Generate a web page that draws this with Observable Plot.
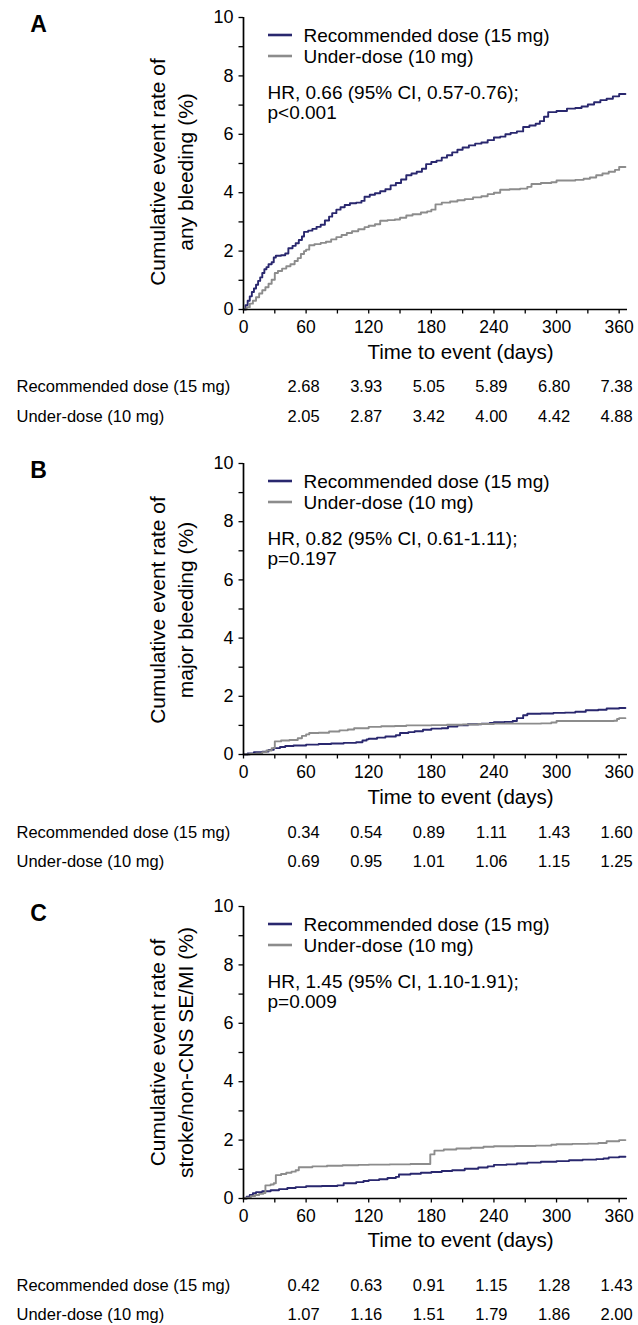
<!DOCTYPE html>
<html>
<head>
<meta charset="utf-8">
<script src="https://cdn.jsdelivr.net/npm/d3@7"></script>
<script src="https://cdn.jsdelivr.net/npm/@observablehq/plot@0.6"></script>
<style>
  html, body { margin: 0; padding: 0; background: #fff; }
  #chart svg { display: block; }
</style>
</head>
<body>
<div id="chart"></div>
<script>
// ---------- data ----------
const seriesNames = ["Recommended dose (15 mg)", "Under-dose (10 mg)"];
const seriesColors = ["#29276e", "#8c8c8c"];
const xTicks = [0, 30, 60, 90, 120, 150, 180, 210, 240, 270, 300, 330, 360];
const yTicks = [0, 1, 2, 3, 4, 5, 6, 7, 8, 9, 10];
const tableDays = [60, 120, 180, 240, 300, 360];

const panelLetters = ["A", "B", "C"];
const yLabels = [
  "Cumulative event rate of\nany bleeding (%)",
  "Cumulative event rate of\nmajor bleeding (%)",
  "Cumulative event rate of\nstroke/non-CNS SE/MI (%)"
];
const hrTexts = [
  "HR, 0.66 (95% CI, 0.57-0.76);\np<0.001",
  "HR, 0.82 (95% CI, 0.61-1.11);\np=0.197",
  "HR, 1.45 (95% CI, 1.10-1.91);\np=0.009"
];

const tableA_rec = [2.68, 3.93, 5.05, 5.89, 6.80, 7.38];
const tableA_under = [2.05, 2.87, 3.42, 4.00, 4.42, 4.88];
const tableB_rec = [0.34, 0.54, 0.89, 1.11, 1.43, 1.60];
const tableB_under = [0.69, 0.95, 1.01, 1.06, 1.15, 1.25];
const tableC_rec = [0.42, 0.63, 0.91, 1.15, 1.28, 1.43];
const tableC_under = [1.07, 1.16, 1.51, 1.79, 1.86, 2.00];

// Kaplan-Meier style cumulative curves [day, %]
const curveA_rec = [[0,0],[2,0.15],[4,0.3],[6,0.45],[8,0.6],[10,0.72],[12,0.85],[14,0.98],[16,1.1],[18,1.25],[20,1.38],[22,1.45],[24,1.55],[27,1.62],[29,1.78],[31,1.84],[36,1.86],[40,1.92],[43,2.1],[47,2.18],[50,2.27],[53,2.38],[56,2.5],[58,2.66],[62,2.7],[66,2.76],[70,2.83],[74,2.9],[78,3.05],[82,3.18],[85,3.3],[89,3.42],[93,3.5],[97,3.58],[102,3.64],[108,3.66],[113,3.72],[116,3.86],[121,3.93],[126,3.98],[131,4.05],[136,4.12],[141,4.25],[146,4.33],[151,4.45],[156,4.6],[161,4.66],[166,4.72],[171,4.82],[175,4.98],[180,5.05],[185,5.1],[190,5.2],[195,5.28],[200,5.38],[205,5.47],[210,5.55],[216,5.62],[222,5.68],[228,5.72],[234,5.8],[240,5.89],[246,5.92],[251,6.0],[256,6.05],[262,6.1],[268,6.25],[274,6.3],[280,6.36],[284,6.45],[288,6.6],[292,6.76],[300,6.8],[306,6.8],[310,6.88],[318,6.9],[324,6.95],[330,7.02],[336,7.1],[342,7.17],[348,7.22],[354,7.3],[360,7.38],[366,7.38]];
const curveA_under = [[0,0],[3,0.08],[6,0.2],[9,0.3],[12,0.42],[15,0.55],[18,0.66],[21,0.76],[24,0.88],[27,1.02],[30,1.25],[33,1.32],[37,1.4],[41,1.48],[45,1.55],[49,1.66],[52,1.76],[55,1.9],[58,2.0],[60,2.05],[63,2.2],[68,2.24],[74,2.28],[79,2.32],[84,2.4],[89,2.48],[94,2.55],[99,2.62],[104,2.68],[110,2.75],[116,2.82],[120,2.87],[126,2.92],[131,3.04],[138,3.06],[145,3.08],[150,3.14],[156,3.22],[162,3.26],[170,3.32],[176,3.36],[180,3.42],[184,3.6],[190,3.66],[198,3.7],[205,3.74],[212,3.78],[220,3.84],[228,3.88],[234,3.95],[240,4.0],[246,4.1],[255,4.12],[265,4.14],[272,4.2],[276,4.3],[285,4.33],[295,4.36],[300,4.42],[310,4.42],[318,4.44],[326,4.48],[332,4.52],[338,4.6],[344,4.66],[350,4.72],[356,4.78],[360,4.88],[366,4.88]];
const curveB_rec = [[0,0],[4,0.04],[10,0.08],[18,0.1],[24,0.16],[29,0.22],[35,0.26],[40,0.29],[48,0.31],[60,0.34],[72,0.36],[84,0.38],[96,0.4],[108,0.42],[114,0.48],[118,0.52],[120,0.54],[128,0.58],[136,0.62],[146,0.66],[150,0.74],[158,0.77],[164,0.8],[172,0.85],[180,0.89],[190,0.9],[196,0.96],[205,1.0],[215,1.04],[228,1.06],[236,1.08],[240,1.11],[250,1.12],[258,1.15],[262,1.25],[268,1.35],[272,1.4],[285,1.41],[297,1.43],[308,1.44],[318,1.47],[328,1.52],[340,1.54],[348,1.58],[360,1.6],[366,1.6]];
const curveB_under = [[0,0],[6,0.02],[12,0.04],[18,0.08],[22,0.14],[27,0.22],[30,0.45],[36,0.48],[44,0.5],[52,0.56],[56,0.64],[60,0.69],[63,0.74],[72,0.75],[82,0.79],[92,0.83],[100,0.86],[106,0.9],[120,0.95],[132,0.97],[145,0.98],[156,1.0],[170,1.0],[180,1.01],[195,1.02],[210,1.03],[225,1.05],[240,1.06],[255,1.06],[270,1.06],[285,1.07],[295,1.1],[300,1.15],[320,1.15],[340,1.15],[355,1.16],[358,1.22],[360,1.25],[366,1.25]];
const curveC_rec = [[0,0],[3,0.06],[6,0.12],[9,0.18],[12,0.22],[18,0.25],[26,0.28],[34,0.32],[42,0.36],[50,0.39],[60,0.42],[75,0.43],[90,0.45],[96,0.52],[108,0.56],[115,0.6],[120,0.63],[130,0.66],[138,0.7],[146,0.74],[149,0.82],[160,0.85],[170,0.88],[180,0.91],[190,0.94],[200,0.97],[212,1.02],[225,1.06],[234,1.1],[240,1.15],[252,1.17],[262,1.2],[272,1.23],[285,1.26],[300,1.28],[312,1.31],[325,1.33],[338,1.35],[345,1.37],[350,1.41],[360,1.43],[366,1.43]];
const curveC_under = [[0,0],[3,0.03],[7,0.08],[11,0.12],[15,0.16],[19,0.19],[21,0.45],[26,0.48],[29,0.52],[31,0.8],[36,0.84],[41,0.88],[46,0.92],[50,0.97],[53,1.07],[60,1.07],[66,1.1],[80,1.12],[95,1.14],[110,1.15],[120,1.16],[140,1.17],[160,1.18],[177,1.18],[179,1.51],[183,1.64],[192,1.68],[204,1.71],[218,1.74],[230,1.77],[240,1.79],[260,1.8],[280,1.81],[295,1.84],[300,1.86],[315,1.87],[330,1.88],[340,1.9],[348,1.96],[360,2.0],[366,2.0]];

// ---------- layout (pixels) ----------
const FONT = "'Liberation Sans', Arial, Helvetica, sans-serif";
const panels = [
  {letter: 0, curves: [curveA_rec, curveA_under], table: [tableA_rec, tableA_under],
   height: 444, marginTop: 17, frameH: 292, ylabDy: 8.5, titleDy: 42.5, rowDy: [77.5, 107.5]},
  {letter: 1, curves: [curveB_rec, curveB_under], table: [tableB_rec, tableB_under],
   height: 444, marginTop: 19, frameH: 291, ylabDy: 1, titleDy: 43, rowDy: [78.5, 107.5]},
  {letter: 2, curves: [curveC_rec, curveC_under], table: [tableC_rec, tableC_under],
   height: 437, marginTop: 18, frameH: 292, ylabDy: 0, titleDy: 42, rowDy: [87, 116]}
];
const ML = 243, MR = 11;

function legendSwatches(index, scales, values, dims) {
  const g = d3.create("svg:g");
  const x0 = dims.marginLeft + 25, x1 = dims.marginLeft + 49;
  [18, 39].forEach((dy, i) => {
    g.append("line")
      .attr("x1", x0).attr("x2", x1)
      .attr("y1", dims.marginTop + dy).attr("y2", dims.marginTop + dy)
      .attr("stroke", seriesColors[i]).attr("stroke-width", 2.6);
  });
  return g.node();
}

const container = document.getElementById("chart");

panels.forEach((p, k) => {
  const marks = [];
  // curves
  p.curves.forEach((c, i) => {
    marks.push(Plot.line(c, {x: d => d[0], y: d => d[1], curve: "step-after",
      stroke: seriesColors[i], strokeWidth: 1.9}));
  });
  // axes
  marks.push(Plot.axisY({ticks: yTicks, tickFormat: d => (d % 2 === 0 ? String(d) : ""),
    tickSize: 4.5, tickPadding: 5.5, fontSize: 18, label: null, stroke: "#000", strokeWidth: 1.3}));
  marks.push(Plot.axisX({ticks: xTicks, tickFormat: d => (d % 60 === 0 ? String(d) : ""),
    tickSize: 4.5, tickPadding: 7, fontSize: 17.5, label: null, stroke: "#000", strokeWidth: 1.3}));
  marks.push(Plot.ruleY([0], {stroke: "#000", strokeWidth: 1.7}));
  marks.push(Plot.ruleX([0], {stroke: "#000", strokeWidth: 1.7}));
  // panel letter
  marks.push(Plot.text([panelLetters[p.letter]], {frameAnchor: "top-left", dx: 38 - ML, dy: 7,
    textAnchor: "middle", lineAnchor: "middle", fontSize: 23, fontWeight: "bold"}));
  // y label
  marks.push(Plot.text([yLabels[k]], {frameAnchor: "left", dx: 169.5 - ML, dy: p.ylabDy, rotate: -90,
    textAnchor: "middle", lineAnchor: "middle", lineHeight: 1.333, fontSize: 21}));
  // x axis title
  marks.push(Plot.text(["Time to event (days)"], {frameAnchor: "bottom", dx: 25, dy: p.titleDy,
    textAnchor: "middle", lineAnchor: "middle", fontSize: 20.5}));
  // legend
  marks.push(legendSwatches);
  seriesNames.forEach((name, i) => {
    marks.push(Plot.text([name], {frameAnchor: "top-left", dx: 60, dy: 18 + 21 * i,
      textAnchor: "start", lineAnchor: "middle", fontSize: 19}));
  });
  marks.push(Plot.text([hrTexts[k]], {frameAnchor: "top-left", dx: 24, dy: 85,
    textAnchor: "start", lineAnchor: "middle", lineHeight: 1.053, fontSize: 19}));
  // risk table below
  seriesNames.forEach((name, i) => {
    marks.push(Plot.text([name], {frameAnchor: "bottom-left", dx: 16 - ML, dy: p.rowDy[i],
      textAnchor: "start", lineAnchor: "middle", fontSize: 16.5}));
    marks.push(Plot.text(tableDays, {x: d => d, text: (d, j) => p.table[i][j].toFixed(2),
      frameAnchor: "bottom", dx: -2.5, dy: p.rowDy[i], textAnchor: "middle", lineAnchor: "middle", fontSize: 16.5}));
  });

  const chart = Plot.plot({
    width: 638,
    height: p.height,
    marginLeft: ML,
    marginRight: MR,
    marginTop: p.marginTop,
    marginBottom: p.height - p.marginTop - p.frameH,
    x: {domain: [0, 368]},
    y: {domain: [0, 10]},
    style: {fontFamily: FONT, color: "#000", background: "#fff", overflow: "visible"},
    marks
  });
  container.appendChild(chart);
});
</script>
</body>
</html>
